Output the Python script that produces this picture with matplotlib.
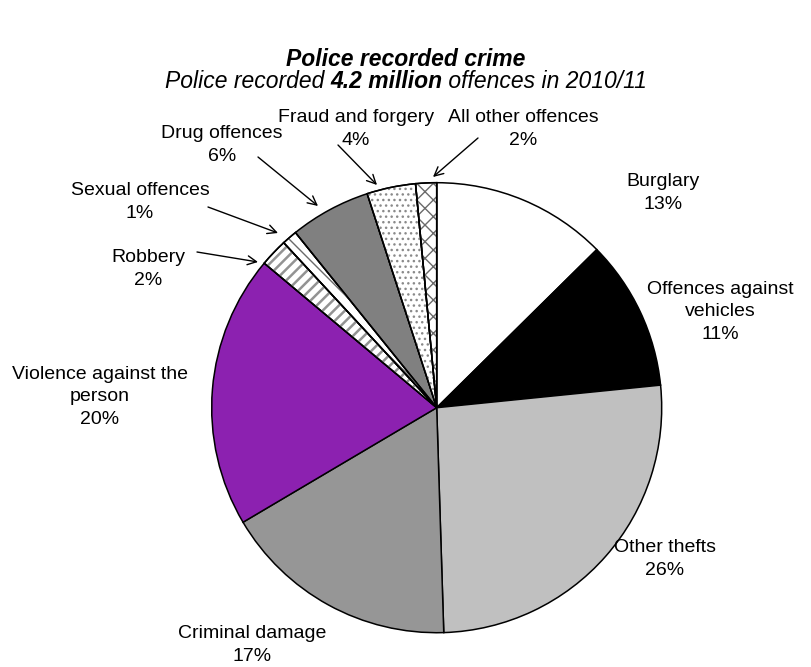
import matplotlib
matplotlib.use("Agg")
import matplotlib.pyplot as plt
from matplotlib.patches import Wedge

plt.rcParams['font.family'] = ['Liberation Sans', 'DejaVu Sans']

# Share of police recorded offences, 2010/11 (%)
categories = ["Burglary", "Offences against\nvehicles", "Other thefts", "Criminal damage",
              "Violence against the\nperson", "Robbery", "Sexual offences", "Drug offences",
              "Fraud and forgery", "All other offences"]
shares = [12.6, 10.8, 26.1, 17.0, 19.6, 2.0, 1.1, 5.8, 3.5, 1.5]

facecolors = ["#ffffff", "#000000", "#c0c0c0", "#969696", "#8c21b0",
              "#ffffff", "#ffffff", "#808080", "#ffffff", "#ffffff"]
hatches = [None, None, None, None, None, "///", "\\\\", None, "...", "xx"]
hatch_colors = [None, None, None, None, None, "#939393", "#6a6a6a", None, "#8a8a8a", "#6a6a6a"]
hatch_widths = [None, None, None, None, None, 1.8, 1.0, None, 1.0, 1.0]

W, H = 812, 667
fig = plt.figure(figsize=(W / 100, H / 100), dpi=100)
ax = fig.add_axes([0, 0, 1, 1])

cx, cy, R = 436.7, H - 407.7, 225

wedges, _ = ax.pie(shares, colors=facecolors, startangle=90, counterclock=False,
                   center=(cx, cy), radius=R, frame=True,
                   wedgeprops=dict(edgecolor='black', linewidth=1.1))
ax.set_xlim(0, W)
ax.set_ylim(0, H)
ax.set_aspect('equal')
ax.axis('off')

for w, h, hc, hw in zip(wedges, hatches, hatch_colors, hatch_widths):
    if h:
        with plt.rc_context({'hatch.linewidth': hw}):
            hp = Wedge(w.center, w.r, w.theta1, w.theta2, facecolor='none',
                       edgecolor=hc, linewidth=0, hatch=h, zorder=w.get_zorder() + 0.1)
        ax.add_patch(hp)
        ax.add_patch(Wedge(w.center, w.r, w.theta1, w.theta2, facecolor='none',
                           edgecolor='black', linewidth=1.1, zorder=w.get_zorder() + 0.2))


def pct(v):
    return f"{int(v + 0.5)}%"


# label centre (pixels from top-left) and optional arrow (start, tip)
label_pos = [(663, 193), (720, 312), (665, 559), (252, 645), (100, 397),
             (148, 269), (140, 202), (222, 145), (356, 129), (523, 129)]
arrows = [None, None, None, None, None,
          ((197, 252), (258, 262)), ((208, 207), (278, 233)), ((258, 157), (318, 206)),
          ((338, 145), (377, 185)), ((478, 138), (433, 177))]

for cat, v, (lx, ly), arr in zip(categories, shares, label_pos, arrows):
    ax.text(lx, H - ly, f"{cat}\n{pct(v)}", ha='center', va='center', fontsize=14,
            linespacing=1.42, color='black')
    if arr:
        (x0, y0), (x1, y1) = arr
        ax.annotate("", xy=(x1, H - y1), xytext=(x0, H - y0),
                    arrowprops=dict(arrowstyle='->', color='black', lw=1.0,
                                    mutation_scale=16, shrinkA=0, shrinkB=0))

# Titles
fig.text(0.5, 1 - 59 / H, "Police recorded crime", ha='center', va='center',
         fontsize=16.5, fontstyle='italic', fontweight='bold')

parts = [("Police recorded ", 'normal'), ("4.2 million", 'bold'), (" offences in 2010/11", 'normal')]
renderer = fig.canvas.get_renderer()
texts = []
for s, wt in parts:
    t = fig.text(0, 1 - 82 / H, s, ha='left', va='center', fontsize=16.5,
                 fontstyle='italic', fontweight=wt)
    texts.append(t)
widths = [t.get_window_extent(renderer).width for t in texts]
total = sum(widths)
x = (W - total) / 2
for t, wd in zip(texts, widths):
    t.set_x(x / W)
    x += wd

fig.savefig("out.png", dpi=100)
